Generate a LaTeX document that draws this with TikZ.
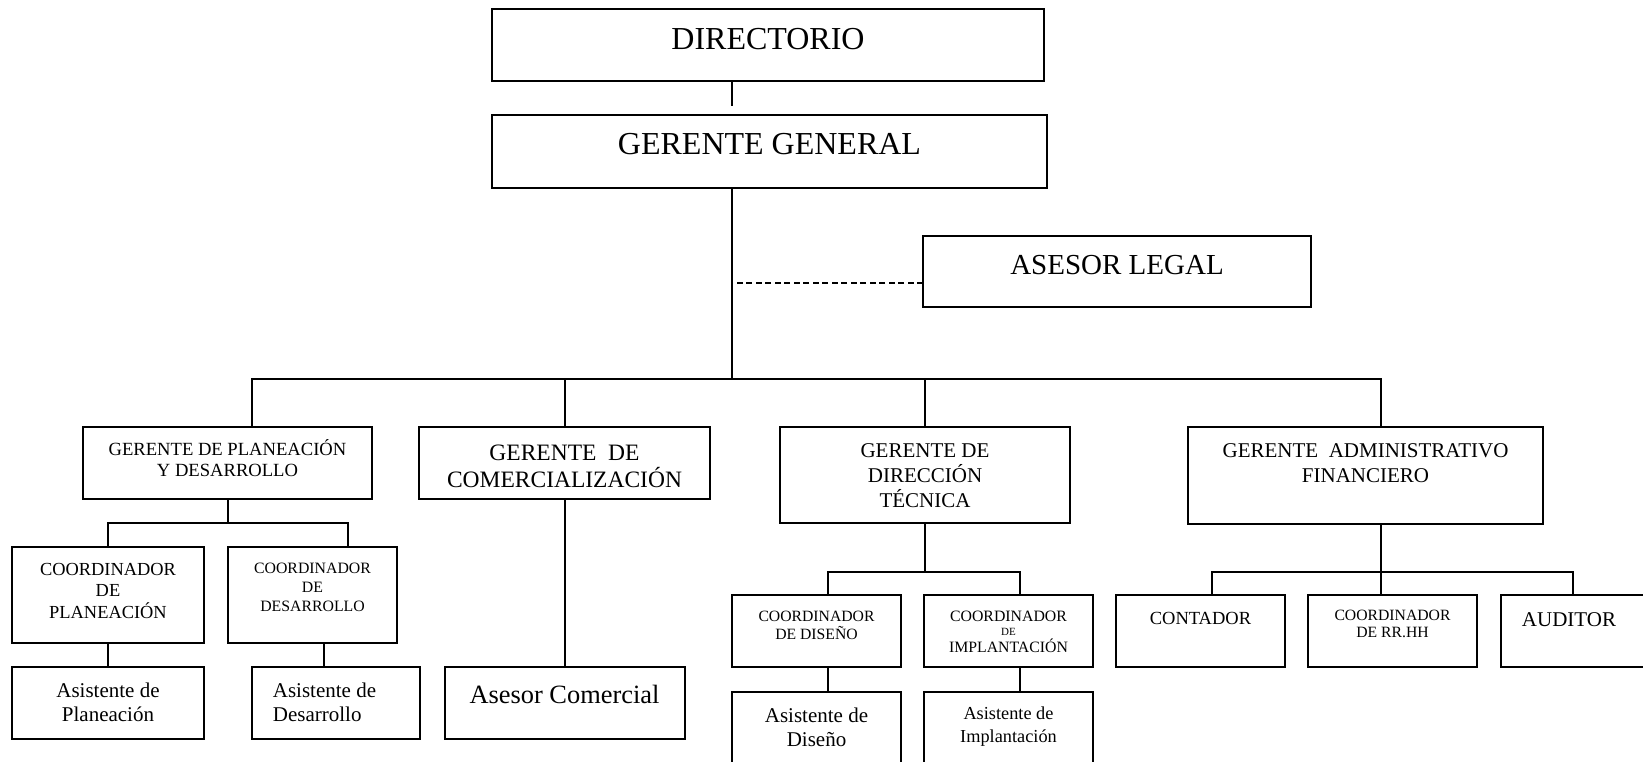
\documentclass[tikz,border=0pt]{standalone}
\usepackage{fontspec}
\setmainfont{Liberation Serif}
\usetikzlibrary{positioning}

\begin{document}
\begin{tikzpicture}[
        x=1pt, y=-1pt,
        unit/.style={
            rectangle, draw=black, line width=2pt,
            anchor=north west, inner sep=0pt, outer sep=0pt
        },
        lbl/.style={anchor=north, yshift=-#1, inner sep=0pt, align=center},
        fs/.style 2 args={font=\fontsize{#1}{#2}\selectfont},
        link/.style={draw=black, line width=2pt},
        aside/.style={draw=black, line width=1.6pt, dash pattern=on 6pt off 3.5pt}
    ]
    \useasboundingbox (0,0) rectangle (1643,762);

    % directorio, gerencia y asesoria
    \node[unit, minimum width=552pt, minimum height=72pt,
        label={[lbl=19pt, fs={32}{38}]north:DIRECTORIO}] (dir) at (492,9) {};
    \node[unit, minimum width=555pt, minimum height=73pt,
        label={[lbl=18pt, fs={32}{38}]north:GERENTE GENERAL}] (gg) at (492,115) {};
    \node[unit, minimum width=388pt, minimum height=71pt,
        label={[lbl=19pt, fs={29}{34}]north:ASESOR LEGAL}] (al) at (923,236) {};

    % gerencias de area
    \node[unit, minimum width=289pt, minimum height=72pt,
        label={[lbl=12pt, fs={18.6}{21}]north:{GERENTE DE PLANEACIÓN\\Y DESARROLLO}}] (gpd) at (83,427) {};
    \node[unit, minimum width=291pt, minimum height=72pt,
        label={[lbl=18pt, fs={23.5}{27}]north:{GERENTE\ \ DE\\COMERCIALIZACIÓN}}] (gc) at (419,427) {};
    \node[unit, minimum width=290pt, minimum height=96pt,
        label={[lbl=16pt, fs={21}{25}]north:{GERENTE DE\\DIRECCIÓN\\TÉCNICA}}] (gdt) at (780,427) {};
    \node[unit, minimum width=355pt, minimum height=97pt,
        label={[lbl=16pt, fs={21}{25}]north:{GERENTE\ \ ADMINISTRATIVO\\FINANCIERO}}] (gaf) at (1188,427) {};

    % planeacion y desarrollo
    \node[unit, minimum width=192pt, minimum height=96pt,
        label={[lbl=16pt, fs={18.4}{21.5}]north:{COORDINADOR\\DE\\PLANEACIÓN}}] (cp) at (12,547) {};
    \node[unit, minimum width=169pt, minimum height=96pt, right=24pt of cp,
        label={[lbl=16pt, fs={15.8}{19}]north:{COORDINADOR\\DE\\DESARROLLO}}] (cd) {};
    \node[unit, minimum width=192pt, minimum height=72pt, below=24pt of cp,
        label={[lbl=16pt, fs={21}{24}]north:{Asistente de\\Planeación}}] (ap) {};
    \node[unit, minimum width=168pt, minimum height=72pt,
        label={[lbl=16pt, xshift=-11.5pt, align=left, fs={21}{24}]north:{Asistente de\\Desarrollo}}] (ad) at (252,667) {};

    % comercializacion
    \node[unit, minimum width=240pt, minimum height=72pt, below=168pt of gc,
        label={[lbl=18pt, fs={26.4}{31}]north:Asesor Comercial}] (ac) {};

    % direccion tecnica
    \node[unit, minimum width=169pt, minimum height=72pt,
        label={[lbl=16pt, fs={15.7}{18}]north:{COORDINADOR\\DE DISEÑO}}] (cdis) at (732,595) {};
    \node[unit, minimum width=169pt, minimum height=72pt, right=23pt of cdis,
        label={[lbl=16pt, fs={15.8}{17}]north:{COORDINADOR\\[-3pt]{\fontsize{11}{13}\selectfont DE}\\IMPLANTACIÓN}}] (cimp) {};
    \node[unit, minimum width=169pt, minimum height=78pt, below=25pt of cdis,
        label={[lbl=16pt, fs={21}{24}]north:{Asistente de\\Diseño}}] (adis) {};
    \node[unit, minimum width=169pt, minimum height=78pt, below=25pt of cimp,
        label={[lbl=15pt, fs={18.3}{23}]north:{Asistente de\\Implantación}}] (aimp) {};

    % administrativo financiero
    \node[unit, minimum width=169pt, minimum height=72pt,
        label={[lbl=17pt, fs={18.5}{22}]north:CONTADOR}] (cont) at (1116,595) {};
    \node[unit, minimum width=169pt, minimum height=72pt, right=23pt of cont,
        label={[lbl=15pt, fs={15.7}{17}]north:{COORDINADOR\\DE RR.HH}}] (crh) {};
    \node[unit, minimum width=159pt, minimum height=72pt, right=24pt of crh,
        label={[lbl=17pt, xshift=-11.5pt, fs={21}{25}]north:AUDITOR}] (aud) {};

    % lineas de mando
    \coordinate (hub) at (732,379);
    \path ([yshift=-11.5pt]al.west) coordinate (legal);
    \draw[link, shorten >=9pt] (dir.south -| hub) -- (gg.north -| hub);
    \draw[link] (gg.south -| hub) -- (hub);
    \draw[aside] (legal) -- (legal -| hub);
    \draw[link] ([xshift=24.5pt]gpd.north) -- ++(0,-48) -| ([xshift=15.5pt]gaf.north);
    \draw[link] (gc.north) -- (gc.north |- hub);
    \draw[link] (gdt.north) -- (gdt.north |- hub);

    \draw[link] (gpd.south) -- ++(0,24) coordinate (pdbus);
    \draw[link] (cp.north) |- (pdbus) -| ([xshift=35.5pt]cd.north);
    \draw[link] (cp) -- (ap);
    \draw[link] ([xshift=11.5pt]cd.south) -- ++(0,24);

    \draw[link] (gc.south) -- (gc.south |- ac.north);

    \draw[link] (gdt.south) -- ++(0,49) coordinate (tecbus);
    \draw[link] ([xshift=11.5pt]cdis.north) |- (tecbus) -| ([xshift=11.5pt]cimp.north);
    \draw[link] ([xshift=11.5pt]cdis.south) -- ++(0,25);
    \draw[link] ([xshift=11.5pt]cimp.south) -- ++(0,25);

    \draw[link] ([xshift=15pt]gaf.south) -- ++(0,71);
    \draw[link] ([xshift=11.5pt]cont.north) -- ++(0,-23) -| ([xshift=71.5pt]aud.north west);
\end{tikzpicture}
\end{document}
